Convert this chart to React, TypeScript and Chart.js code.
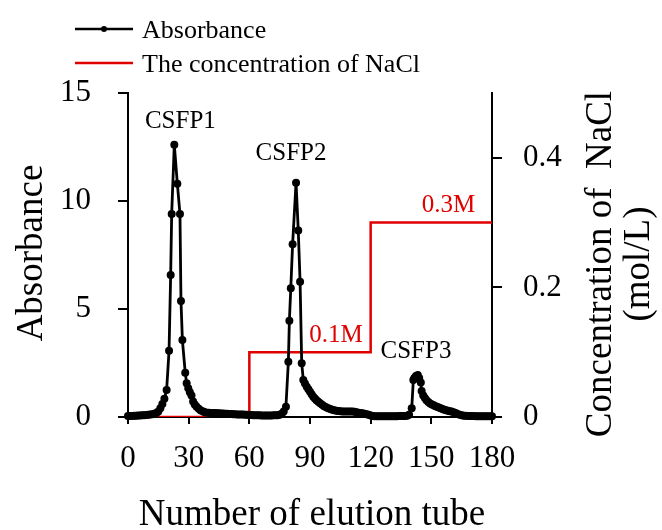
import React, { useEffect, useRef } from "react";
import { Chart, registerables } from "chart.js";

Chart.register(...registerables);

// ---- data ----
const tubes = [
  0, 1, 2, 3, 4, 5, 6, 7, 8, 9, 10, 11, 12, 13, 14, 15, 16, 17, 18,
  19.1, 20.3, 21.1, 21.6, 22.9, 24.4, 25.7, 26.2, 26.9, 28.3, 29, 29.8, 30.6, 31.4, 32.2, 33, 33.9, 35, 36, 37.2, 38,
  39, 40, 41, 42, 43, 44, 45, 46, 47, 48, 49, 50, 51, 52, 53, 54, 55, 56, 57, 58, 59,
  60, 61, 62, 63, 64, 65, 66, 67, 68, 69, 70, 71, 72, 73, 74, 75, 76, 77,
  78.1, 79.3, 79.8, 80.5, 81.4, 83.1, 84.2, 85.1, 85.9, 86.7, 87.5, 88.4, 89.2, 90, 90.8, 91.6, 92.4, 93.2, 94.1,
  95, 96, 97, 98, 99, 100, 101, 102, 103, 104, 105, 106, 107, 108, 109, 110, 111, 112, 113, 114, 115, 116, 117, 118, 119, 120, 121,
  122, 123, 124, 125, 126, 127, 128, 129, 130, 131, 132, 133, 134, 135, 136, 137, 138, 139,
  140.3, 141.1, 141.6, 142.4, 143.3, 144, 144.8, 145.2, 146, 146.8, 147.6, 148.5, 149.4, 150.3, 151.2, 152, 152.8, 153.7,
  154.6, 155.5, 156.4, 157.3, 158.2, 159.1, 160, 161, 162, 163, 164, 165,
  166, 167, 168, 169, 170, 171, 172, 173, 174, 175, 176, 177, 178, 179, 180,
];
const absorbance = [
  0.05, 0.05, 0.05, 0.06, 0.06, 0.07, 0.07, 0.08, 0.08, 0.09, 0.1, 0.11, 0.13, 0.15, 0.18, 0.25, 0.4, 0.6, 0.85,
  1.25, 3.07, 6.57, 9.4, 12.6, 10.8, 9.4, 5.37, 3.56, 2.05, 1.56, 1.33, 1.15, 1.0, 0.72, 0.58, 0.48, 0.38, 0.3, 0.25, 0.22,
  0.2, 0.2, 0.19, 0.18, 0.18, 0.17, 0.17, 0.16, 0.16, 0.15, 0.15, 0.14, 0.14, 0.13, 0.13, 0.12, 0.12, 0.11, 0.11, 0.1, 0.1,
  0.09, 0.09, 0.08, 0.08, 0.08, 0.08, 0.07, 0.07, 0.07, 0.07, 0.07, 0.07, 0.08, 0.08, 0.08, 0.1, 0.15, 0.25,
  0.48, 2.56, 4.46, 5.96, 8.0, 10.85, 8.63, 6.26, 2.49, 1.71, 1.55, 1.4, 1.28, 1.17, 1.05, 0.94, 0.86, 0.78, 0.71,
  0.64, 0.57, 0.5, 0.45, 0.41, 0.37, 0.34, 0.31, 0.29, 0.28, 0.27, 0.26, 0.25, 0.25, 0.26, 0.26, 0.25, 0.24, 0.22, 0.2, 0.19, 0.17, 0.15, 0.13, 0.1, 0.07, 0.05,
  0.04, 0.04, 0.03, 0.03, 0.03, 0.03, 0.04, 0.04, 0.04, 0.04, 0.04, 0.04, 0.05, 0.05, 0.05, 0.05, 0.06, 0.1,
  0.4, 1.71, 1.8, 1.9, 1.94, 1.8, 1.6, 1.2, 1.0, 0.88, 0.78, 0.7, 0.63, 0.58, 0.54, 0.5, 0.47, 0.44,
  0.41, 0.37, 0.34, 0.31, 0.29, 0.27, 0.25, 0.22, 0.18, 0.14, 0.1, 0.08,
  0.06, 0.06, 0.05, 0.05, 0.05, 0.05, 0.04, 0.04, 0.04, 0.04, 0.04, 0.04, 0.04, 0.04, 0.04,
];
const saltTubes = [0, 60, 120, 180];
const saltConc = [0, 0.1, 0.3, 0.3];

const xTicks = [0, 30, 60, 90, 120, 150, 180];
const yTicks = [0, 5, 10, 15];
const y1Ticks = [0, 0.2, 0.4];

const seriesNames = ["Absorbance", "The concentration of NaCl"];
const xTitle = "Number of elution tube";
const yTitle = "Absorbance";
const y1Title = ["Concentration of  NaCl", "(mol/L)"];

const peakLabels = ["CSFP1", "CSFP2", "CSFP3"];
const peakLabelTube = [25.9, 80.6, 142.4];
const peakLabelAbs = [13.4, 11.9, 2.73];
const saltLabels = ["0.1M", "0.3M"];
const saltLabelTube = [102.9, 158.5];
const saltLabelConc = [0.116, 0.316];

const FONT = "'Liberation Serif', 'Times New Roman', serif";
const RED = "#e00000";

const textPlugin = {
  id: "textPlugin",
  afterDraw(chart: any) {
    const ctx = chart.ctx;
    const { x, y, y1 } = chart.scales;
    const area = chart.chartArea;
    ctx.save();
    // legend
    ctx.lineCap = "butt";
    ctx.strokeStyle = "#000";
    ctx.lineWidth = 2.5;
    ctx.beginPath();
    ctx.moveTo(75, 29);
    ctx.lineTo(133, 29);
    ctx.stroke();
    ctx.fillStyle = "#000";
    ctx.beginPath();
    ctx.arc(104, 29, 3, 0, Math.PI * 2);
    ctx.fill();
    ctx.strokeStyle = RED;
    ctx.lineWidth = 2.5;
    ctx.beginPath();
    ctx.moveTo(75, 63);
    ctx.lineTo(133, 63);
    ctx.stroke();
    ctx.font = `26px ${FONT}`;
    ctx.textAlign = "left";
    ctx.textBaseline = "alphabetic";
    ctx.fillStyle = "#000";
    ctx.fillText(seriesNames[0], 142, 38);
    ctx.fillText(seriesNames[1], 142, 72);

    // peak labels
    ctx.font = `25px ${FONT}`;
    ctx.textAlign = "center";
    peakLabels.forEach((t, i) => {
      ctx.fillText(t, x.getPixelForValue(peakLabelTube[i]), y.getPixelForValue(peakLabelAbs[i]));
    });
    ctx.fillStyle = RED;
    saltLabels.forEach((t, i) => {
      ctx.fillText(t, x.getPixelForValue(saltLabelTube[i]), y1.getPixelForValue(saltLabelConc[i]));
    });

    // axis titles
    ctx.fillStyle = "#000";
    ctx.font = `37px ${FONT}`;
    ctx.textAlign = "center";
    ctx.fillText(xTitle, (area.left + area.right) / 2 + 2, 525);

    const cy = (area.top + area.bottom) / 2;
    ctx.save();
    ctx.translate(42, cy - 2);
    ctx.rotate(-Math.PI / 2);
    ctx.fillText(yTitle, 0, 0);
    ctx.restore();

    ctx.save();
    ctx.translate(611, cy + 9);
    ctx.rotate(-Math.PI / 2);
    ctx.fillText(y1Title[0], 0, 0);
    ctx.fillText(y1Title[1], 0, 38);
    ctx.restore();

    ctx.restore();
  },
};

export default function App() {
  const ref = useRef<HTMLCanvasElement>(null);
  useEffect(() => {
    if (!ref.current) return;
    const tickFont = { family: FONT, size: 31 };
    const chart = new Chart(ref.current, {
      type: "line",
      data: {
        datasets: [
          {
            label: seriesNames[0],
            data: tubes.map((t, i) => ({ x: t, y: absorbance[i] })),
            borderColor: "#000",
            backgroundColor: "#000",
            borderWidth: 2.8,
            pointRadius: 4,
            pointBorderWidth: 0,
            pointBackgroundColor: "#000",
            yAxisID: "y",
            order: 0,
            clip: false,
            tension: 0,
          },
          {
            label: seriesNames[1],
            data: saltTubes.map((t, i) => ({ x: t, y: saltConc[i] })),
            borderColor: RED,
            borderWidth: 2.5,
            pointRadius: 0,
            stepped: true,
            yAxisID: "y1",
            order: 1,
          },
        ],
      },
      options: {
        responsive: false,
        animation: false,
        layout: { padding: { top: 93, left: 0, right: 0, bottom: 0 } },
        plugins: { legend: { display: false }, tooltip: { enabled: false } },
        scales: {
          x: {
            type: "linear",
            position: "bottom",
            min: 0,
            max: 180,
            afterBuildTicks: (s: any) => {
              s.ticks = xTicks.map((v) => ({ value: v }));
            },
            afterFit: (s: any) => {
              s.height = 113;
            },
            grid: { display: true, drawOnChartArea: false, drawTicks: true, tickLength: 7, color: "#000", lineWidth: 2 },
            border: { display: true, color: "#000", width: 2 },
            ticks: { color: "#000", font: tickFont, padding: 16, maxRotation: 0, autoSkip: false },
          },
          y: {
            type: "linear",
            position: "left",
            min: 0,
            max: 15,
            afterBuildTicks: (s: any) => {
              s.ticks = yTicks.map((v) => ({ value: v }));
            },
            afterFit: (s: any) => {
              s.width = 128;
            },
            grid: { display: true, drawOnChartArea: false, drawTicks: true, tickLength: 10, color: "#000", lineWidth: 2 },
            border: { display: true, color: "#000", width: 2 },
            ticks: { color: "#000", font: tickFont, padding: 27 },
          },
          y1: {
            type: "linear",
            position: "right",
            min: 0,
            max: 0.5,
            afterBuildTicks: (s: any) => {
              s.ticks = y1Ticks.map((v) => ({ value: v }));
            },
            afterFit: (s: any) => {
              s.width = 170;
            },
            grid: { display: true, drawOnChartArea: false, drawTicks: true, tickLength: 10, color: "#000", lineWidth: 2 },
            border: { display: true, color: "#000", width: 2 },
            ticks: {
              color: "#000",
              font: tickFont,
              padding: 21,
              callback: (v: any) => (Number(v) === 0 ? "0" : Number(v).toFixed(1)),
            },
          },
        },
      },
      plugins: [textPlugin],
    } as any);
    return () => chart.destroy();
  }, []);
  return (
    <div style={{ position: "absolute", left: 0, top: 0, width: 662, height: 530, background: "#fff" }}>
      <canvas ref={ref} width={662} height={530} />
    </div>
  );
}
